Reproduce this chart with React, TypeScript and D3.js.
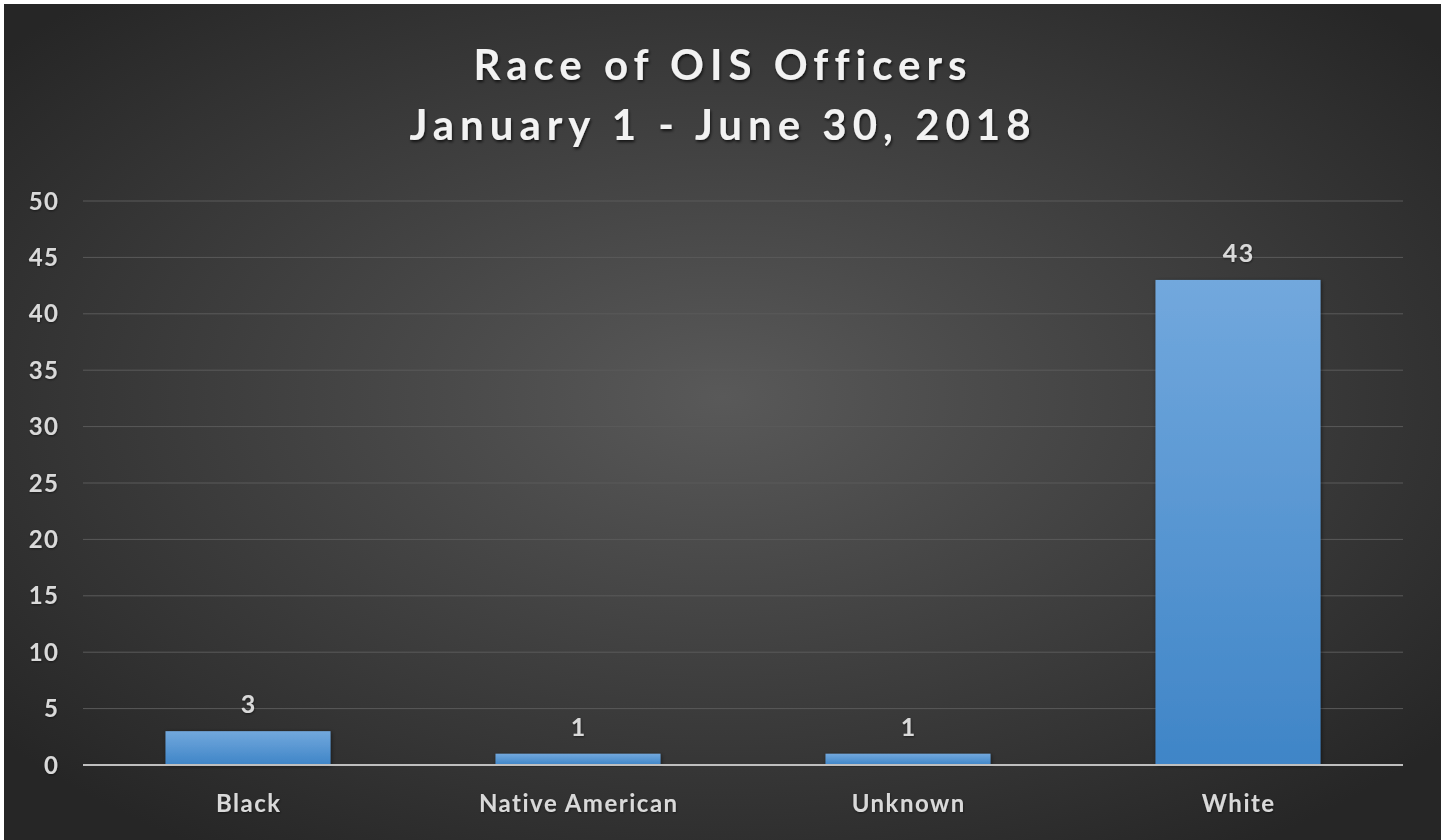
import React from "react";
import * as d3 from "d3";

const categories = ["Black", "Native American", "Unknown", "White"];
const values = [3, 1, 1, 43];
const yTicks = [0, 5, 10, 15, 20, 25, 30, 35, 40, 45, 50];
const titleLines = ["Race of OIS Officers", "January 1 - June 30, 2018"];

const W = 1445;
const H = 840;
const margin = { left: 83, right: 42, top: 201, bottom: 75 };

export default function App() {
  const x = d3
    .scaleBand<string>()
    .domain(categories)
    .range([margin.left, W - margin.right])
    .paddingInner(0.5)
    .paddingOuter(0.25);
  const y = d3.scaleLinear().domain([0, 50]).range([H - margin.bottom, margin.top]);
  const font = "Lato, 'Open Sans', sans-serif";
  const textCol = "#d9d9d9";
  const titleLs = 6;
  const lblLs = 1.5;

  return (
    <svg
      width={W}
      height={H}
      style={{ position: "absolute", left: 0, top: 0 }}
    >
      <defs>
        <radialGradient id="bg" cx="50%" cy="47%" r="65%">
          <stop offset="0%" stopColor="#595959" />
          <stop offset="100%" stopColor="#262626" />
        </radialGradient>
        <linearGradient id="bar" x1="0" y1="0" x2="0" y2="1">
          <stop offset="0%" stopColor="#72a8dd" />
          <stop offset="100%" stopColor="#3f85c7" />
        </linearGradient>
        <filter id="ts" x="-10%" y="-30%" width="120%" height="160%">
          <feDropShadow dx="1" dy="2" stdDeviation="1.5" floodColor="#000" floodOpacity="0.7" />
        </filter>
        <filter id="ls" x="-10%" y="-30%" width="120%" height="160%">
          <feDropShadow dx="0.5" dy="1" stdDeviation="1" floodColor="#000" floodOpacity="0.5" />
        </filter>
        <filter id="bs" x="-10%" y="-10%" width="120%" height="120%">
          <feDropShadow dx="1" dy="1" stdDeviation="2" floodColor="#000" floodOpacity="0.5" />
        </filter>
      </defs>
      <rect x={0} y={0} width={W} height={H} fill="#ffffff" />
      <rect x={4} y={4} width={W - 8} height={H - 4} fill="url(#bg)" />

      {titleLines.map((t, i) => (
        <text
          key={t}
          x={720 + titleLs / 2}
          y={80 + i * 60}
          textAnchor="middle"
          fontFamily={font}
          fontWeight={700}
          fontSize={42}
          letterSpacing={titleLs}
          fill="#f2f2f2"
          filter="url(#ts)"
        >
          {t}
        </text>
      ))}

      {yTicks.map((t) => (
        <g key={t}>
          {t > 0 && (
            <line
              x1={margin.left}
              x2={W - margin.right}
              y1={y(t)}
              y2={y(t)}
              stroke="#5a5a5a"
              strokeWidth={1}
            />
          )}
          <text
            x={58 + lblLs}
            y={y(t)}
            dy="0.36em"
            textAnchor="end"
            fontFamily={font}
            fontWeight={700}
            fontSize={24}
            letterSpacing={lblLs}
            fill={textCol}
            filter="url(#ls)"
          >
            {t}
          </text>
        </g>
      ))}

      {categories.map((c, i) => (
        <g key={c}>
          <rect
            x={x(c)}
            y={y(values[i])}
            width={x.bandwidth()}
            height={y(0) - y(values[i])}
            fill="url(#bar)"
            filter="url(#bs)"
          />
          <text
            x={(x(c) as number) + x.bandwidth() / 2 + lblLs / 2}
            y={y(values[i]) - 18}
            textAnchor="middle"
            fontFamily={font}
            fontWeight={700}
            fontSize={25}
            letterSpacing={lblLs}
            fill={textCol}
            filter="url(#ls)"
          >
            {values[i]}
          </text>
          <text
            x={(x(c) as number) + x.bandwidth() / 2 + lblLs / 2}
            y={812}
            textAnchor="middle"
            fontFamily={font}
            fontWeight={700}
            fontSize={24}
            letterSpacing={lblLs}
            fill={textCol}
            filter="url(#ls)"
          >
            {c}
          </text>
        </g>
      ))}

      <line
        x1={margin.left}
        x2={W - margin.right}
        y1={y(0)}
        y2={y(0)}
        stroke="#bfbfbf"
        strokeWidth={2}
      />
    </svg>
  );
}
